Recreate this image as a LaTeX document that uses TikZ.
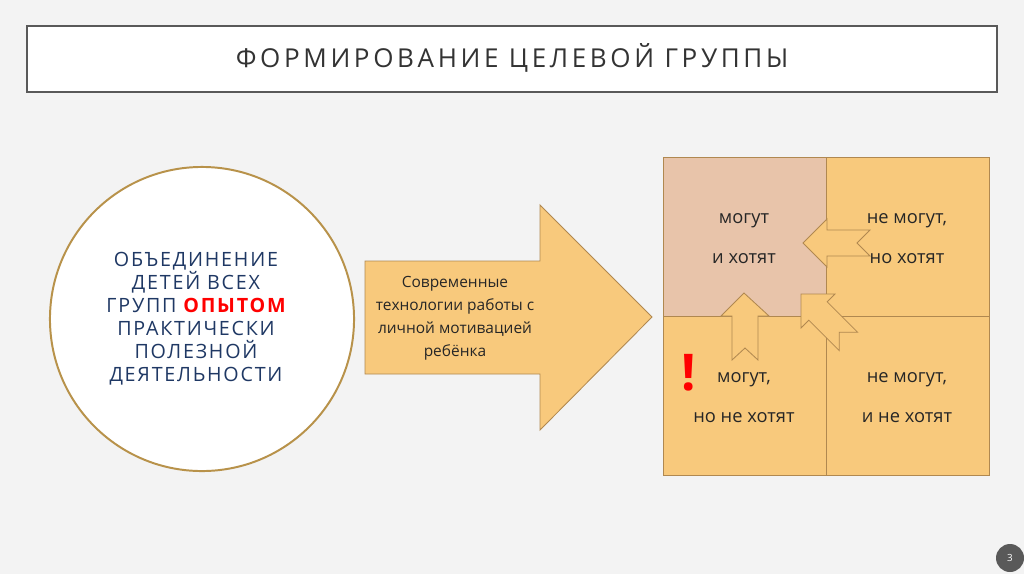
\documentclass[tikz,border=0pt]{standalone}
\usepackage{fontspec}
\setmainfont{Open Sans}
\usetikzlibrary{positioning}
\definecolor{pagebg}{HTML}{F3F3F3}
\definecolor{framegray}{HTML}{595959}
\definecolor{ringbrown}{HTML}{B8924A}
\definecolor{inkblue}{HTML}{1F3864}
\definecolor{boxorange}{HTML}{F8C97C}
\definecolor{boxpink}{HTML}{E8C4AA}
\definecolor{edgebrown}{HTML}{B08850}
\tikzset{
  cell/.style={draw=edgebrown, line width=0.6pt, minimum width=4.075cm, minimum height=3.975cm, inner sep=0pt, outer sep=0pt},
  celltext/.style={font=\fontsize{13}{15}\selectfont, text=black!85},
  blockarrow/.style={fill=boxorange, draw=edgebrown, line width=0.6pt, line join=miter}
}
\begin{document}
\begin{tikzpicture}[x=0.025cm, y=-0.025cm]
  \fill[pagebg] (0,0) rectangle (1024,574);
  \useasboundingbox (0,0) rectangle (1024,574);

  % title
  \node[draw=framegray, line width=1.6pt, fill=white, minimum width=24.25cm, minimum height=1.65cm] (title) at (512,59) {};
  \node[font=\fontsize{18.5}{20}\selectfont\addfontfeatures{LetterSpace=14}, text=black!80] (titletext) at (512,58) {ФОРМИРОВАНИЕ ЦЕЛЕВОЙ ГРУППЫ};

  % circle
  \node[circle, draw=ringbrown, line width=1.4pt, fill=white, minimum size=7.6cm] (ring) at (202,319) {};
  \node[align=center, text=inkblue, font=\fontsize{14}{16.4}\selectfont\addfontfeatures{LetterSpace=9}] (ringtext) at (196,319)
    {ОБЪЕДИНЕНИЕ\\ДЕТЕЙ ВСЕХ\\ГРУПП {\color{red}\bfseries ОПЫТОМ}\\ПРАКТИЧЕСКИ\\ПОЛЕЗНОЙ\\ДЕЯТЕЛЬНОСТИ};

  % big arrow
  \draw[blockarrow] (365,261) -- (540,261) -- (540,205) -- (652,317) -- (540,430) -- (540,374) -- (365,374) -- cycle;
  \node[align=center, font=\fontsize{11}{16.3}\selectfont, text=black!85] (method) at (455,318)
    {Современные\\технологии работы с\\личной мотивацией\\ребёнка};

  % grid
  \node[cell, fill=boxpink, anchor=north west] (canwant) at (663,157) {};
  \node[cell, fill=boxorange, right=0pt of canwant] (cannotwant) {};
  \node[cell, fill=boxorange, below=0pt of canwant] (cannowant) {};
  \node[cell, fill=boxorange, right=0pt of cannowant] (cannotnowant) {};

  \node[celltext] at (744,221) {могут};
  \node[celltext] at (744,259) {и хотят};
  \node[celltext] at (907,221) {не могут,};
  \node[celltext] at (907,259) {но хотят};
  \node[celltext] at (744,380) {могут,};
  \node[celltext] at (744,418) {но не хотят};
  \node[celltext] at (907,380) {не могут,};
  \node[celltext] at (907,418) {и не хотят};
  \node[text=red, font=\fontsize{36}{36}\selectfont\bfseries] (alert) at (689,373) {!};

  % small arrows
  \draw[blockarrow] (803,243) -- (827,219) -- (827,230) -- (870,230) -- (857,243) -- (870,256) -- (827,256) -- (827,267) -- cycle;
  \draw[blockarrow] (744,293) -- (769,316) -- (758,316) -- (758,360) -- (745,348) -- (732,360) -- (732,316) -- (721,316) -- cycle;
  \begin{scope}[shift={(801,294)}, rotate=-45]
    \draw[blockarrow] (0,0) -- (24,-24) -- (24,-13) -- (67,-13) -- (54,0) -- (67,13) -- (24,13) -- (24,24) -- cycle;
  \end{scope}

  % page number
  \node[circle, fill=framegray, minimum size=0.7cm, text=white, font=\fontsize{7}{8}\selectfont] (pagenum) at (1010,558) {3};
\end{tikzpicture}
\end{document}
